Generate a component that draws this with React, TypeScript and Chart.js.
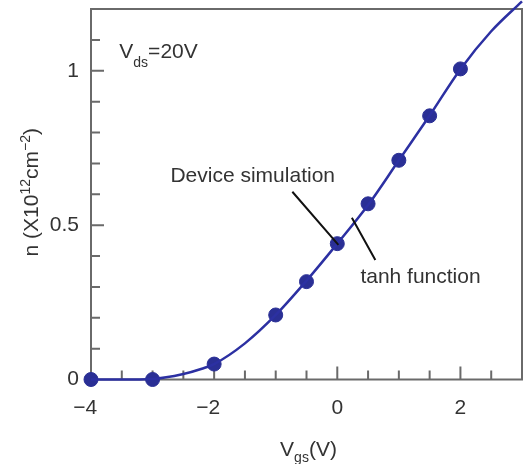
import React, { useEffect, useRef } from 'react';
import { Chart, registerables } from 'chart.js';

Chart.register(...registerables);

// Device simulation points
const simVgs = [-4, -3, -2, -1, -0.5, 0, 0.5, 1, 1.5, 2];
const simN = [0, 0, 0.05, 0.209, 0.317, 0.44, 0.569, 0.71, 0.854, 1.006];

// tanh function curve
const fitVgs = [-4, -3.5, -3, -2.5, -2.2, -2, -1.5, -1, -0.5, 0, 0.5, 1, 1.5, 2, 2.5, 3];
const fitN = [0, 0, 0.002, 0.018, 0.035, 0.05, 0.117, 0.209, 0.32, 0.44, 0.565, 0.71, 0.855, 1.005, 1.128, 1.225];

const xTickLabels = [-4, -2, 0, 2];
const yTickLabels = [0, 0.5, 1];

const FONT = '"Liberation Sans", Arial, Helvetica, sans-serif';
const TEXT = '#333333';

type Part = { t: string; size: number; dy: number };

function richWidth(ctx: CanvasRenderingContext2D, parts: Part[]) {
  let w = 0;
  for (const p of parts) {
    ctx.font = `${p.size}px ${FONT}`;
    w += ctx.measureText(p.t).width;
  }
  return w;
}

function drawRich(ctx: CanvasRenderingContext2D, parts: Part[], x: number, y: number, center: boolean) {
  let cx = center ? x - richWidth(ctx, parts) / 2 : x;
  ctx.textBaseline = 'alphabetic';
  ctx.textAlign = 'left';
  for (const p of parts) {
    ctx.font = `${p.size}px ${FONT}`;
    ctx.fillText(p.t, cx, y + p.dy);
    cx += ctx.measureText(p.t).width;
  }
}

const framePlugin = {
  id: 'frameTicks',
  beforeDatasetsDraw(chart: any) {
    const { ctx, chartArea: a, scales } = chart;
    ctx.save();
    ctx.strokeStyle = '#6a6a6a';
    ctx.lineWidth = 2;
    ctx.strokeRect(a.left, a.top, a.right - a.left, a.bottom - a.top);
    ctx.beginPath();
    for (let i = -7; i <= 5; i++) {
      const v = i / 2;
      const px = scales.x.getPixelForValue(v);
      const len = xTickLabels.includes(v) ? 13 : 9;
      ctx.moveTo(px, a.bottom);
      ctx.lineTo(px, a.bottom - len);
    }
    for (let i = 1; i <= 11; i++) {
      const v = i / 10;
      const py = scales.y.getPixelForValue(v);
      const len = yTickLabels.includes(v) ? 13 : 9;
      ctx.moveTo(a.left, py);
      ctx.lineTo(a.left + len, py);
    }
    ctx.stroke();
    ctx.restore();
  },
  afterDraw(chart: any) {
    const { ctx, chartArea: a, scales } = chart;
    const X = (v: number) => scales.x.getPixelForValue(v);
    const Y = (v: number) => scales.y.getPixelForValue(v);
    ctx.save();
    ctx.fillStyle = TEXT;
    // V_ds = 20V
    drawRich(ctx, [
      { t: 'V', size: 21, dy: 0 },
      { t: 'ds', size: 14, dy: 9 },
      { t: '=20V', size: 21, dy: 0 },
    ], X(-3.54), Y(1.042), false);
    // Device simulation
    drawRich(ctx, [{ t: 'Device simulation', size: 21, dy: 0 }], X(-2.71), Y(0.64), false);
    // tanh function
    drawRich(ctx, [{ t: 'tanh function', size: 21, dy: 0 }], X(0.375), Y(0.313), false);
    // leader lines
    ctx.strokeStyle = '#111111';
    ctx.lineWidth = 2;
    ctx.beginPath();
    ctx.moveTo(X(-0.73), Y(0.608));
    ctx.lineTo(X(0.018), Y(0.436));
    ctx.moveTo(X(0.237), Y(0.524));
    ctx.lineTo(X(0.618), Y(0.387));
    ctx.stroke();
    // x title
    drawRich(ctx, [
      { t: 'V', size: 21, dy: 0 },
      { t: 'gs', size: 14, dy: 6 },
      { t: '(V)', size: 21, dy: 0 },
    ], (a.left + a.right) / 2 + 2, 456, true);
    // y title
    ctx.translate(38, (a.top + a.bottom) / 2 - 2);
    ctx.rotate(-Math.PI / 2);
    drawRich(ctx, [
      { t: 'n (X10', size: 21, dy: 0 },
      { t: '12', size: 14, dy: -8 },
      { t: 'cm', size: 21, dy: 0 },
      { t: '\u22122', size: 14, dy: -8 },
      { t: ')', size: 21, dy: 0 },
    ], 0, 0, true);
    ctx.restore();
  },
};

export default function App() {
  const ref = useRef<HTMLCanvasElement>(null);
  useEffect(() => {
    if (!ref.current) return;
    const chart = new Chart(ref.current, {
      type: 'scatter',
      data: {
        datasets: [
          {
            label: 'tanh function',
            data: fitVgs.map((x, i) => ({ x, y: fitN[i] })),
            showLine: true,
            borderColor: '#2c30a2',
            borderWidth: 2.5,
            pointRadius: 0,
            cubicInterpolationMode: 'monotone',
            clip: false as any,
          },
          {
            label: 'Device simulation',
            data: simVgs.map((x, i) => ({ x, y: simN[i] })),
            showLine: false,
            backgroundColor: '#2a2f95',
            borderColor: '#2a2f95',
            pointRadius: 7,
            clip: false as any,
          },
        ],
      },
      options: {
        animation: false,
        responsive: true,
        maintainAspectRatio: false,
        layout: { padding: { left: 0, right: 9, top: 9, bottom: 0 } },
        plugins: { legend: { display: false }, tooltip: { enabled: false }, title: { display: false } },
        scales: {
          x: {
            type: 'linear',
            min: -4,
            max: 3,
            grid: { display: false, drawTicks: false },
            border: { display: false },
            afterFit: (s: any) => { s.height = 84.5; s.paddingLeft = 0; s.paddingRight = 0; },
            ticks: {
              stepSize: 2,
              includeBounds: false,
              padding: 16,
              color: TEXT,
              font: { family: FONT, size: 21 },
              callback: (v: any) => (v < 0 ? '\u2212' + Math.abs(v) + '\u2007' : String(v)),
            },
          },
          y: {
            type: 'linear',
            min: 0,
            max: 1.2,
            grid: { display: false, drawTicks: false },
            border: { display: false },
            afterFit: (s: any) => { s.width = 91; s.paddingTop = 0; s.paddingBottom = 0; },
            ticks: {
              stepSize: 0.5,
              includeBounds: false,
              padding: 12,
              color: TEXT,
              font: { family: FONT, size: 21 },
              callback: (v: any) => String(v),
            },
          },
        },
      },
      plugins: [framePlugin],
    });
    return () => chart.destroy();
  }, []);
  return (
    <div style={{ position: 'fixed', left: 0, top: 0, width: 531, height: 464, background: '#fff' }}>
      <canvas ref={ref} />
    </div>
  );
}
